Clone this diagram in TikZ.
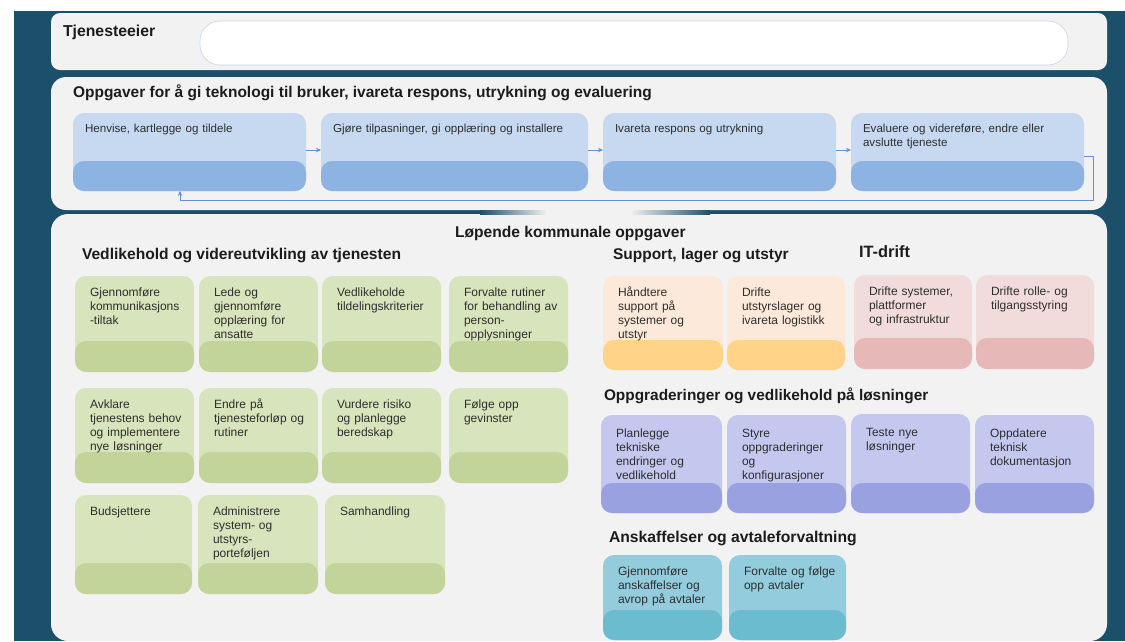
\documentclass[tikz,border=0pt]{standalone}
\usepackage{fontspec}
\setmainfont{Liberation Sans}
\usetikzlibrary{arrows.meta,calc}
\definecolor{bgdark}{HTML}{1B4F6A}
\definecolor{panelgray}{HTML}{F2F2F2}
\definecolor{ownerline}{HTML}{C6D6EC}
\definecolor{blueL}{HTML}{C6D9F1}
\definecolor{blueD}{HTML}{8DB3E2}
\definecolor{arrowblue}{HTML}{5F93D8}
\definecolor{greenL}{HTML}{D8E4BC}
\definecolor{greenD}{HTML}{C2D49A}
\definecolor{orangeL}{HTML}{FDE9D9}
\definecolor{orangeD}{HTML}{FFD488}
\definecolor{pinkL}{HTML}{F2DCDB}
\definecolor{pinkD}{HTML}{E6B8B7}
\definecolor{purpleL}{HTML}{C4C8EE}
\definecolor{purpleD}{HTML}{99A1E0}
\definecolor{tealL}{HTML}{93CDDD}
\definecolor{tealD}{HTML}{6BBCCF}
\definecolor{headtext}{HTML}{1C1C1C}
\definecolor{boxtext}{HTML}{2E2E2E}
\newcommand\taskfont{\fontsize{12}{14.2}\selectfont}
\newcommand\tdx{15}
\newcommand\tdy{20}
% named rectangle node from (x1,y1) to (x2,y2)
\newcommand\rbox[6]{%
  \pgfmathsetmacro\rbw{#4-#2}\pgfmathsetmacro\rbh{#5-#3}%
  \node[#6, minimum width=\rbw pt, minimum height=\rbh pt, anchor=north west,
        inner sep=0pt, outer sep=0pt] (#1) at (#2,#3) {};}
% task box: name, x1, y1, x2, y2, ysplit, light, dark, text
\newcommand\tbox[9]{%
  \rbox{#1}{#2}{#3}{#4}{#5}{fill=#7, rounded corners=11pt}%
  \rbox{#1d}{#2}{#6}{#4}{#5}{fill=#8, rounded corners=11pt}%
  \pgfmathsetmacro\tbw{#4-#2-18}%
  \node[tasktext, text width=\tbw pt, anchor=base west] (#1t) at (#2+\tdx,#3+\tdy) {#9};}
\newcommand\hfont[1]{\fontsize{#1}{18}\selectfont\bfseries}
\tikzset{
  tasktext/.style={inner sep=0pt, outer sep=0pt, align=left, text=boxtext, font=\taskfont},
  heading/.style={inner sep=0pt, outer sep=0pt, anchor=base west, text=headtext,
                  font=\hfont{15.6}},
  panel/.style={fill=panelgray, draw=none},
  flow/.style={draw=arrowblue, line width=0.7pt, -{Stealth[length=5pt,width=4.5pt]}},
}
\begin{document}
\begin{tikzpicture}[x=1pt,y=-1pt]
\useasboundingbox (0,0) rectangle (1125,641);
\fill[white] (0,0) rectangle (1125,641);
\fill[bgdark] (14,11) rectangle (1125,641);

% ---------- panel 1 ----------
\rbox{p1}{51}{13}{1107}{70}{panel, rounded corners=9pt}
\node[heading, font=\hfont{15.8}] (owner) at (63,36) {Tjenesteeier};
\rbox{ownerbox}{200}{21}{1068}{65}{fill=white, draw=ownerline, line width=0.6pt, rounded corners=20pt}

% ---------- panel 2 ----------
\rbox{p2}{51}{77}{1107}{210}{panel, rounded corners=15pt}
\node[heading, font=\hfont{15.5}] (title2) at (73,97)
  {Oppgaver for å gi teknologi til bruker, ivareta respons, utrykning og evaluering};

\begin{scope}
\renewcommand\taskfont{\fontsize{11.6}{14.2}\selectfont}
\renewcommand\tdx{12}
\renewcommand\tdy{132-113}
\tbox{b1}{73}{113}{306}{191}{161}{blueL}{blueD}{Henvise, kartlegge og tildele}
\tbox{b2}{321}{113}{588}{191}{161}{blueL}{blueD}{Gjøre tilpasninger, gi opplæring og installere}
\tbox{b3}{603}{113}{836}{191}{161}{blueL}{blueD}{Ivareta respons og utrykning}
\tbox{b4}{851}{113}{1084}{191}{161}{blueL}{blueD}{Evaluere og videreføre, endre eller\\avslutte tjeneste}
\end{scope}
\draw[flow] ([yshift=2pt]b1.east) -- ([yshift=2pt]b2.west);
\draw[flow] ([yshift=2pt]b2.east) -- ([yshift=2pt]b3.west);
\draw[flow] ([yshift=2pt]b3.east) -- ([yshift=2pt]b4.west);
\coordinate (fb) at (180,200);
\draw[flow] ([yshift=-4pt]b4.east) -- ++(9pt,0) |- (fb) -- (fb |- b1.south);

% ---------- panel 3 ----------
\rbox{p3}{51}{214}{1107}{641}{panel, rounded corners=17pt}
\shade[left color=bgdark, right color=panelgray] (480,210) rectangle (547,214);
\fill[panelgray] (547,210) rectangle (630,214);
\shade[left color=panelgray, right color=bgdark] (630,210) rectangle (710,214);

\node[heading, font=\hfont{15.6}] (main3) at (455,237) {Løpende kommunale oppgaver};
\node[heading] (vedl) at (82,259) {Vedlikehold og videreutvikling av tjenesten};
\node[heading, font=\hfont{15.5}] (supp) at (613,259) {Support, lager og utstyr};
\node[heading, font=\hfont{16.4}] (itd) at (859,257) {IT-drift};
\node[heading, font=\hfont{15.4}] (oppg) at (604,400) {Oppgraderinger og vedlikehold på løsninger};
\node[heading, font=\hfont{15.7}] (ansk) at (609,542) {Anskaffelser og avtaleforvaltning};

% green
\tbox{g1}{75}{276}{194}{372}{341}{greenL}{greenD}{Gjennomføre\\kommunikasjons\\-tiltak}
\tbox{g2}{199}{276}{318}{372}{341}{greenL}{greenD}{Lede og\\gjennomføre\\opplæring for\\ansatte}
\tbox{g3}{322}{276}{441}{372}{341}{greenL}{greenD}{Vedlikeholde\\tildelingskriterier}
\tbox{g4}{449}{276}{568}{372}{341}{greenL}{greenD}{Forvalte rutiner\\for behandling av\\person-\\opplysninger}
\tbox{g5}{75}{388}{194}{483}{452}{greenL}{greenD}{Avklare\\tjenestens behov\\og implementere\\nye løsninger}
\tbox{g6}{199}{388}{318}{483}{452}{greenL}{greenD}{Endre på\\tjenesteforløp og\\rutiner}
\tbox{g7}{322}{388}{441}{483}{452}{greenL}{greenD}{Vurdere risiko\\og planlegge\\beredskap}
\tbox{g8}{449}{388}{568}{483}{452}{greenL}{greenD}{Følge opp\\gevinster}
\tbox{g9}{75}{495}{192}{594}{563}{greenL}{greenD}{Budsjettere}
\tbox{g10}{198}{495}{318}{594}{563}{greenL}{greenD}{Administrere\\system- og\\utstyrs-\\porteføljen}
\tbox{g11}{325}{495}{445}{594}{563}{greenL}{greenD}{Samhandling}

% orange
\tbox{o1}{603}{276}{723}{370}{340}{orangeL}{orangeD}{Håndtere\\support på\\systemer og\\utstyr}
\tbox{o2}{727}{276}{845}{370}{340}{orangeL}{orangeD}{Drifte\\utstyrslager og\\ivareta logistikk}
% pink
\tbox{r1}{854}{275}{972}{369}{338}{pinkL}{pinkD}{Drifte systemer,\\plattformer\\og infrastruktur}
\tbox{r2}{976}{275}{1094}{369}{338}{pinkL}{pinkD}{Drifte rolle- og\\tilgangsstyring}

% purple
\begin{scope}
\renewcommand\tdy{22}
\tbox{u1}{601}{415}{722}{513}{483}{purpleL}{purpleD}{Planlegge\\tekniske\\endringer og\\vedlikehold}
\tbox{u2}{727}{415}{846}{513}{483}{purpleL}{purpleD}{Styre\\oppgraderinger\\og\\konfigurasjoner}
\tbox{u3}{851}{414}{970}{513}{483}{purpleL}{purpleD}{Teste nye\\løsninger}
\tbox{u4}{975}{415}{1094}{513}{483}{purpleL}{purpleD}{Oppdatere\\teknisk\\dokumentasjon}
\end{scope}

% teal
\tbox{t1}{603}{555}{722}{640}{610}{tealL}{tealD}{Gjennomføre\\anskaffelser og\\avrop på avtaler}
\tbox{t2}{729}{555}{846}{640}{610}{tealL}{tealD}{Forvalte og følge\\opp avtaler}
\end{tikzpicture}
\end{document}
